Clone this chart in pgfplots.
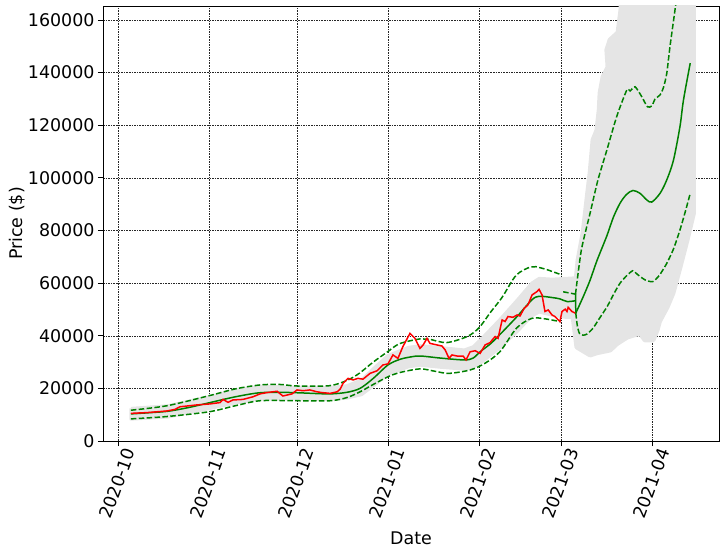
\documentclass[border=0pt]{standalone}
\usepackage{fontspec}
\setmainfont{DejaVu Sans}
\usepackage{pgfplots}
\pgfplotsset{compat=1.18}
\definecolor{mgreen}{RGB}{0,128,0}
\definecolor{cloud}{RGB}{229,229,229}
\begin{document}
\begin{tikzpicture}
\begin{axis}[
  name=ax,
  scale only axis,
  width=616bp, height=435bp,
  xmin=-5.1, xmax=204.8,
  ymin=0, ymax=165300,
  xtick={0,31,61,92,123,151,182},
  xticklabels={2020-10,2020-11,2020-12,2021-01,2021-02,2021-03,2021-04},
  ytick={0,20000,40000,60000,80000,100000,120000,140000,160000},
  yticklabels={0,20000,40000,60000,80000,100000,120000,140000,160000},
  scaled y ticks=false,
  tick pos=left,
  tick align=outside,
  major tick length=5bp,
  tick style={black, line width=0.8bp},
  axis line style={black, line width=0.8bp},
  grid=major,
  grid style={black!85, line width=0.4bp, dash pattern=on 1.6bp off 1bp},
  tick label style={font=\fontsize{17.5}{20}\selectfont},
  x tick label style={xshift=13bp, rotate=70, anchor=east},
  label style={font=\fontsize{17.5}{20}\selectfont},
  xlabel={Date},
  xlabel style={yshift=-4bp},
  ylabel={Price (\$)},
  ylabel style={yshift=-4bp},
  clip=true,
]
% historical sample band
\addplot[fill=cloud, draw=cloud, line width=3bp, line join=round] coordinates {
(4.4,12400) (17,13400) (31,16800) (40,19300) (48,20800) (60,20500) (72,20300) (78,21000) (83,23200) (88,28500) (92,32500) (99,35600) (103,36200) (110,35500) (118,34600) (121,35800) (124,39000) (130,46000) (136,53500) (141,60000) (143.5,61800) (148,61500) (155.8,62000)
(155.8,47000) (152.5,47000) (148,47800) (143.5,49000) (141,47500) (136,41500) (130,35300) (124,30000) (121,28000) (118,27300) (110,28000) (103,28800) (99,28200) (92,25300) (88,21800) (83,17600) (78,16300) (72,15800) (60,16000) (48,15900) (40,14400) (31,12300) (17,9100) (4.4,8300) (4.4,12400)
};
% forecast sample cloud
\addplot[fill=cloud, draw=cloud, line width=5bp, line join=round] coordinates {
(155.1,47100) (155.8,57400) (156.8,68800) (158.5,79000) (160.2,95400) (160.9,101900) (161.9,114400) (163.2,118000) (164.0,125800) (164.3,132300) (165.3,138300) (167.0,142100) (166.6,148600) (167.7,152400) (170.4,155100) (171.4,163800) (171.8,180000) (196.1,180000) (196.1,86600) (193.9,76400) (191.5,66100) (189.1,56200) (187.1,50900) (184.5,45500) (183.7,42200) (182.3,38400) (179.6,38400) (177.9,41000) (173.5,39500) (170,37000) (167.7,34600) (163,33500) (160.9,32700) (156.4,35700) (155.1,47100)
};
% historical bounds
\addplot[mgreen, line width=1.5bp, dash pattern=on 5.5bp off 2.4bp, smooth, tension=0.5] coordinates {
(4.4,11700) (16.7,13400) (31,17200) (40,19800) (48.4,21300) (55,21500) (61,20900) (72,21000) (78,23000) (82.2,25700) (87,30000) (92,34000) (96,37000) (102.9,38800) (106,38700) (112,37400) (119,39700) (123,43000) (127,49000) (130.9,54600) (135.7,63000) (140.8,66200) (144,65800) (147,64800) (151.2,63100)
};
\addplot[mgreen, line width=1.5bp, dash pattern=on 5.5bp off 2.4bp, smooth, tension=0.5] coordinates {
(4.4,8400) (16.7,9300) (31,11100) (40,13400) (48.4,15300) (61,15300) (72.3,15300) (78,16500) (82.5,18700) (87,21500) (92,24400) (96,26000) (102.9,27400) (108,26500) (112.8,25700) (120,27000) (125,29500) (130.2,34000) (135.9,43000) (141,46600) (145,46500) (150.6,45400)
};
\addplot[mgreen, line width=1.5bp, dash pattern=on 5.5bp off 2.4bp] coordinates {
(151.7,56700) (155.9,55800)
};
% forecast bounds
\addplot[mgreen, line width=1.5bp, dash pattern=on 5.5bp off 2.4bp, smooth, tension=0.4] coordinates {
(155.9,55800) (157.9,72600) (160.9,86700) (163.5,99000) (166.6,110600) (170,123500) (173.4,133400) (174.5,133000) (176.2,134600) (178.5,130800) (180.4,127000) (181.9,127300) (183.0,129900) (184.7,131500) (185.9,134400) (187.0,139700) (188.1,149900) (189.8,163800) (191,175000)
};
\addplot[mgreen, line width=1.5bp, dash pattern=on 5.5bp off 2.4bp, smooth, tension=0.4] coordinates {
(156.0,48600) (156.5,44000) (157.2,41000) (158.5,40200) (159.9,40700) (161.9,42900) (164,46500) (166.7,51100) (169,56000) (171.1,60000) (173.5,63000) (175.4,64700) (176.5,63800) (177.9,62500) (180,61000) (182.3,60600) (184.5,63000) (187.0,67500) (189.3,73000) (191.5,80200) (193.4,87500) (195.0,94100)
};
% fit
\addplot[mgreen, line width=1.5bp, smooth, tension=0.5] coordinates {
(4.4,10300) (10,10700) (17,11300) (24,12700) (31,14500) (40,16800) (48,18300) (55,18500) (62,18300) (72,17900) (78,18500) (82.5,20000) (87,23800) (92,28900) (96,31000) (99.5,31900) (103,32300) (110,31500) (118,30800) (121,31500) (123.4,33900) (127,37000) (130,40300) (136,47300) (141,53600) (143.5,55000) (148,54500) (150.6,54000) (153,53000) (155.9,53300)
};
% forecast mean
\addplot[mgreen, line width=1.5bp] coordinates {
(155.95,56000) (156.0,48600)
};
\addplot[mgreen, line width=1.5bp, smooth, tension=0.5] coordinates {
(156.0,48600) (158.6,55000) (160.9,61200) (163.2,68500) (166.6,78000) (168.8,85000) (171.1,90400) (173.3,93700) (175.5,95200) (177.9,94100) (180.2,91600) (181.9,90800) (184.7,94100) (187.0,99200) (189.3,106800) (191.5,119500) (192.7,129600) (195.0,143600)
};
% actual price
\addplot[red, line width=1.5bp] coordinates {
(4.4,10500) (10,10800) (16.6,11400) (19.4,12000) (21.1,13000) (26.8,13700) (31.4,14100) (34.8,14600) (35.8,15800) (37.5,14700) (39.2,15600) (42.6,15800) (46.0,16800) (48.4,17900) (50.8,18400) (54.2,18900) (56.2,17100) (59.3,17900) (61.0,19400) (63.1,19100) (65.4,19400) (67.8,18700) (69.5,18400) (72.3,18100) (74.7,18700) (75.7,19700) (76.7,21900) (78.4,23800) (80.1,23200) (81.8,23800) (83.5,23500) (85.9,25700) (88.3,26700) (90.3,28900) (92.0,29300) (93.7,32700) (95.4,31400) (97.1,35900) (99.5,40900) (101.2,39000) (102.9,35200) (104.0,36500) (105.3,39000) (106.3,37100) (108.7,36500) (110.4,36100) (111.5,34600) (112.8,31400) (113.8,32700) (115.5,32300) (117.6,32300) (118.6,30800) (120.0,33900) (121.7,34300) (123.4,33300) (125.1,36500) (126.8,37400) (128.5,39700) (129.5,39000) (130.9,46000) (131.9,45400) (132.9,47300) (134.6,47000) (136.0,47900) (137.0,47500) (138.4,50400) (139.7,51700) (141.1,55500) (142.8,56800) (143.5,57600) (144.5,55500) (145.5,49200) (146.6,49800) (147.9,47900) (148.9,47300) (150.6,45400) (151.3,49200) (152.4,50100) (153.0,49200) (153.4,50800) (154.7,49200) (155.8,48600)
};
\end{axis}
\pgfresetboundingbox
\path[use as bounding box] ([shift={(-103bp,-113bp)}]ax.south west) rectangle ([shift={(6bp,6bp)}]ax.north east);
\end{tikzpicture}
\end{document}
